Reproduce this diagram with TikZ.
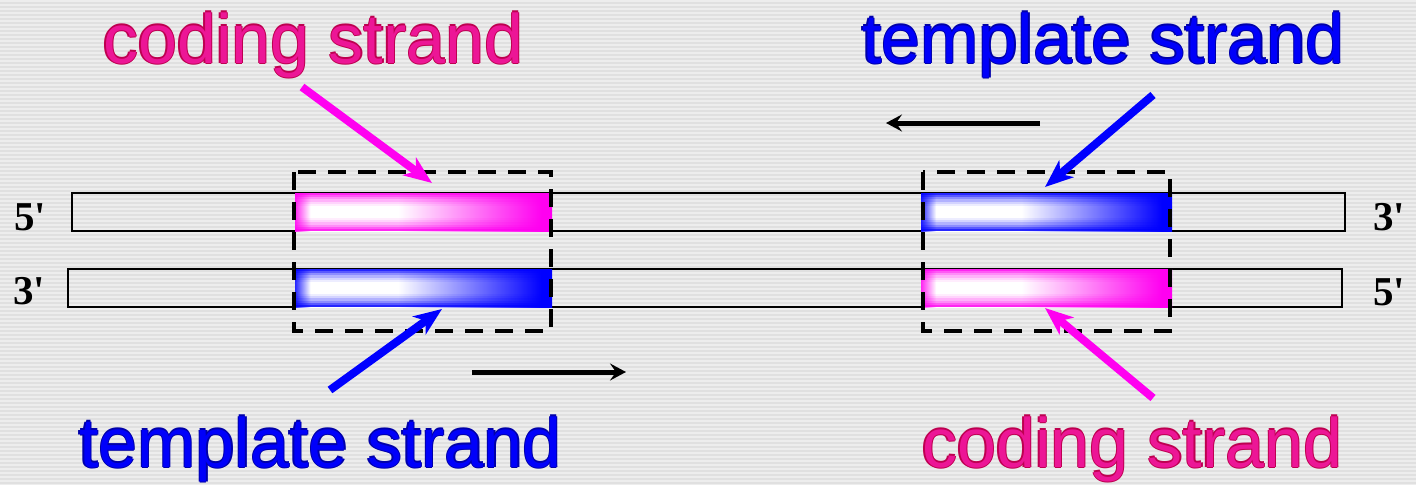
\documentclass[tikz,border=0pt]{standalone}
\usepackage{fontspec}
\setmainfont{Liberation Sans}
\newfontfamily\primefont{Liberation Serif}
\usetikzlibrary{arrows.meta}

\definecolor{bg}{RGB}{224,224,224}
\definecolor{pinkbar}{RGB}{255,0,240}
\definecolor{bluebar}{RGB}{0,0,255}
\definecolor{pinkfill}{RGB}{236,22,150}
\definecolor{pinkedge}{RGB}{190,0,80}
\definecolor{bluefill}{RGB}{0,0,250}
\definecolor{blueedge}{RGB}{0,0,170}

% glossy bar shadings: coloured left rim, white highlight, back to full colour
\pgfdeclarehorizontalshading{pinkglow}{100bp}{color(0bp)=(pinkbar); color(25bp)=(pinkbar!85); color(28bp)=(white); color(45bp)=(white); color(73bp)=(pinkbar); color(100bp)=(pinkbar)}
\pgfdeclarehorizontalshading{blueglow}{100bp}{color(0bp)=(bluebar); color(25bp)=(bluebar!85); color(28bp)=(white); color(45bp)=(white); color(73bp)=(bluebar); color(100bp)=(bluebar)}

% darker upper and lower rims of a bar, built from translucent strips
\newcommand\barrims[2]{%
  \foreach \k/\o in {0/0.85,1/0.65,2/0.45,3/0.3,4/0.17,5/0.07}{
    \fill[#2, opacity=\o] ([yshift=-\k*2.2pt]#1.north west) rectangle ([yshift=-\k*2.2pt-2.2pt]#1.north east);
    \fill[#2, opacity=\o] ([yshift=\k*2.2pt]#1.south west) rectangle ([yshift=\k*2.2pt+2.2pt]#1.south east);
  }}

% text with a thin darker rim
\newcommand\ringtext[3]{\leavevmode
  \rlap{\kern-1.3pt\textcolor{#1}{#3}}\rlap{\kern1.3pt\textcolor{#1}{#3}}%
  \rlap{\raisebox{1.3pt}{\textcolor{#1}{#3}}}\rlap{\raisebox{-1.3pt}{\textcolor{#1}{#3}}}%
  \textcolor{#2}{#3}}

\tikzset{
  strand/.style={draw=black, line width=2.2pt, inner sep=0pt, minimum height=38pt},
  pinkbox/.style={shading=pinkglow, inner sep=0pt, minimum width=257pt, minimum height=38pt},
  bluebox/.style={shading=blueglow, inner sep=0pt, minimum width=257pt, minimum height=38pt},
  dbox/.style={draw=black, line width=3.5pt, dash pattern=on 18pt off 12pt},
  bigpink/.style={draw=pinkbar, line width=8pt, -{Stealth[length=28pt,width=22pt,inset=8pt]}},
  bigblue/.style={draw=bluebar, line width=8pt, -{Stealth[length=28pt,width=22pt,inset=8pt]}},
  direction/.style={draw=black, line width=5pt, -{Stealth[length=16pt,width=17pt,inset=6pt]}},
  label/.style={anchor=base west, inner sep=0pt, font=\fontsize{70}{80}\selectfont},
  prime/.style={anchor=base west, inner sep=0pt, font=\primefont\bfseries\fontsize{41}{45}\selectfont},
}

\begin{document}
\begin{tikzpicture}[x=1pt,y=-1pt]
  \useasboundingbox (0,0) rectangle (1416,485);
  \fill[bg] (0,0) rectangle (1416,485);
  \foreach \yy in {1,5,...,485}
    \draw[white, opacity=0.45, line width=1.2pt] (0,\yy) -- (1416,\yy);

  % the two strands
  \node[strand, minimum width=1273pt] (upper) at (708.5,212) {};
  \node[strand, minimum width=1274pt] (lower) at (705,288) {};

  % gene segments
  \node[pinkbox] (codeL) at (423.5,212) {};
  \node[bluebox] (tmplL) at (423.5,288) {};
  \node[bluebox, minimum width=251pt] (tmplR) at (1046.5,212) {};
  \node[pinkbox, minimum width=251pt] (codeR) at (1046.5,288) {};
  \barrims{codeL}{pinkbar}
  \barrims{tmplL}{bluebar}
  \barrims{tmplR}{bluebar}
  \barrims{codeR}{pinkbar}

  % dashed frames round each gene
  \draw[dbox] (294,172) rectangle (551,331);
  \draw[dbox] (923,172) rectangle (1170,331);

  % strand ends
  \node[prime] (l5) at (14,230) {5'};
  \node[prime] (l3) at (13,304) {3'};
  \node[prime] (r3) at (1373,230) {3'};
  \node[prime] (r5) at (1373,305) {5'};

  % labels
  \node[label] (tcodeL) at (103,63) {\ringtext{pinkedge}{pinkfill}{coding strand}};
  \node[label] (ttmplR) at (862,63) {\ringtext{blueedge}{bluefill}{template strand}};
  \node[label] (ttmplL) at (79,467) {\ringtext{blueedge}{bluefill}{template strand}};
  \node[label] (tcodeR) at (922,467) {\ringtext{pinkedge}{pinkfill}{coding strand}};

  % pointer arrows
  \coordinate (a1s) at (302,87);   \coordinate (a1e) at (432,183);
  \coordinate (a2s) at (1153,95);  \coordinate (a2e) at (1045,187);
  \coordinate (a3s) at (330,390);  \coordinate (a3e) at (442,309);
  \coordinate (a4s) at (1153,398); \coordinate (a4e) at (1045,308);
  \draw[bigpink] (a1s) -- (a1e);
  \draw[bigblue] (a2s) -- (a2e);
  \draw[bigblue] (a3s) -- (a3e);
  \draw[bigpink] (a4s) -- (a4e);

  % transcription directions
  \coordinate (d1s) at (1040,123); \coordinate (d1e) at (886,123);
  \coordinate (d2s) at (472,372);  \coordinate (d2e) at (626,372);
  \draw[direction] (d1s) -- (d1e);
  \draw[direction] (d2s) -- (d2e);
\end{tikzpicture}
\end{document}
